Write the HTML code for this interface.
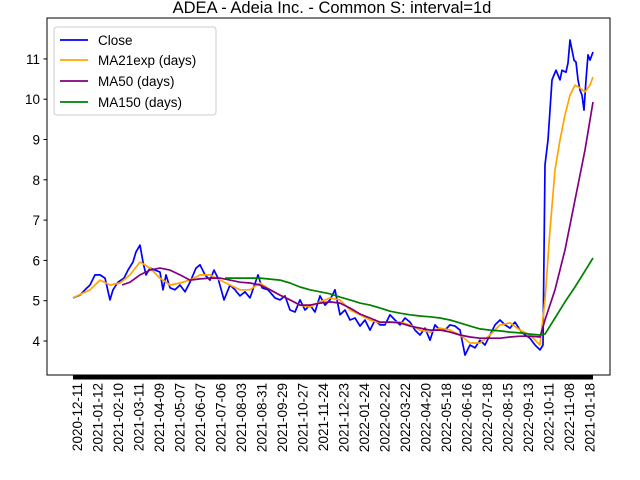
<!DOCTYPE html>
<html><head><meta charset="utf-8"><style>
html,body{margin:0;padding:0;background:#fff;}
svg{display:block;font-family:"Liberation Sans","DejaVu Sans",sans-serif;}
</style></head><body>
<svg id="chart" width="640" height="480" viewBox="0 0 640 480" xmlns="http://www.w3.org/2000/svg">
<text x="332" y="13" font-size="16.5" text-anchor="middle">ADEA - Adeia Inc.  - Common S: interval=1d</text>
<rect x="47" y="18" width="563" height="357" fill="none" stroke="#000" stroke-width="1"/>
<g id="yaxis"></g>
<g id="xaxis"></g>
<g id="series"></g>
<g>
<rect x="54" y="27" width="162" height="88" rx="3" fill="#fff" stroke="#ccc"/>
<line x1="60" y1="40" x2="88" y2="40" stroke="blue" stroke-width="1.8"/>
<text x="98" y="45" font-size="13.5">Close</text>
<line x1="60" y1="60" x2="88" y2="60" stroke="orange" stroke-width="1.8"/>
<text x="98" y="65" font-size="13.5">MA21exp (days)</text>
<line x1="60" y1="81" x2="88" y2="81" stroke="purple" stroke-width="1.8"/>
<text x="98" y="86" font-size="13.5">MA50 (days)</text>
<line x1="60" y1="102" x2="88" y2="102" stroke="green" stroke-width="1.8"/>
<text x="98" y="107" font-size="13.5">MA150 (days)</text>
</g>
</svg>
<script>
const yTicks=[4,5,6,7,8,9,10,11];
const xLabels=["2020-12-11","2021-01-12","2021-02-10","2021-03-11","2021-04-09","2021-05-07","2021-06-07","2021-07-06","2021-08-03","2021-08-31","2021-09-29","2021-10-27","2021-11-24","2021-12-23","2022-01-24","2022-02-22","2022-03-22","2022-04-20","2022-05-18","2022-06-16","2022-07-18","2022-08-15","2022-09-13","2022-10-11","2022-11-08","2021-01-18"];
const closeDay=[0,7,12,17,22,27,32,37,40,45,51,55,60,63,67,70,73,77,82,87,90,93,97,102,107,112,117,123,127,132,137,141,145,151,157,162,167,172,177,185,189,195,202,207,212,217,222,227,232,237,242,247,252,257,262,267,272,277,282,287,292,297,302,307,312,317,322,327,332,337,342,347,352,357,362,367,372,377,382,387,392,397,402,407,412,417,422,427,432,437,442,447,452,457,462,467,470,472,475,477,479,481,483,487,489,493,495,497,499,501,503,505,507,509,511,513,515,517,520];
const closeVal=[5.07,5.14,5.27,5.39,5.64,5.64,5.56,5.02,5.27,5.46,5.56,5.76,5.96,6.21,6.38,5.96,5.64,5.81,5.76,5.71,5.27,5.64,5.32,5.27,5.39,5.22,5.46,5.81,5.89,5.64,5.51,5.76,5.56,5.02,5.39,5.27,5.12,5.22,5.07,5.64,5.32,5.27,5.07,5.02,5.12,4.77,4.72,5.02,4.77,4.89,4.72,5.12,4.89,5.02,5.27,4.65,4.77,4.52,4.57,4.37,4.52,4.27,4.52,4.40,4.40,4.65,4.52,4.40,4.57,4.47,4.27,4.15,4.32,4.02,4.40,4.27,4.27,4.40,4.37,4.27,3.65,3.90,3.83,4.02,3.90,4.15,4.40,4.52,4.40,4.32,4.47,4.27,4.15,4.07,3.90,3.78,3.90,8.37,8.99,9.73,10.48,10.60,10.72,10.48,10.72,10.67,10.90,11.47,11.22,10.97,10.92,10.48,10.23,10.10,9.73,10.48,11.10,10.97,11.17];
const ma21Day=[0,17,27,37,47,57,67,77,87,97,107,117,127,137,147,157,167,177,187,197,207,217,227,237,247,257,267,277,287,297,307,317,327,337,347,357,367,377,387,397,407,417,427,437,447,457,467,472,477,482,487,492,497,502,507,512,517,520];
const ma21Val=[5.07,5.27,5.51,5.39,5.44,5.64,5.96,5.81,5.56,5.39,5.44,5.51,5.64,5.64,5.51,5.39,5.27,5.27,5.44,5.27,5.14,5.02,4.89,4.84,4.97,5.07,5.02,4.77,4.65,4.52,4.45,4.47,4.47,4.40,4.27,4.22,4.32,4.27,4.15,3.95,3.95,4.15,4.40,4.45,4.27,4.15,3.90,5.02,6.75,8.24,8.99,9.61,10.10,10.35,10.28,10.18,10.35,10.55];
const ma50Day=[49,57,67,77,87,97,107,117,127,137,147,157,167,177,187,197,207,217,227,237,247,257,267,277,287,297,307,317,327,337,347,357,367,377,387,397,407,417,427,437,447,457,467,472,482,492,502,512,520];
const ma50Val=[5.39,5.46,5.64,5.76,5.81,5.76,5.64,5.51,5.54,5.56,5.56,5.51,5.46,5.44,5.39,5.27,5.14,5.02,4.89,4.89,4.94,4.97,4.94,4.82,4.67,4.57,4.47,4.47,4.45,4.37,4.32,4.27,4.27,4.22,4.15,4.10,4.07,4.07,4.07,4.10,4.12,4.12,4.10,4.52,5.27,6.26,7.50,8.74,9.93];
const ma150Day=[152,167,187,207,217,227,237,247,257,267,277,287,297,307,317,327,337,347,357,367,377,387,397,407,417,427,437,447,457,467,472,482,492,502,512,520];
const ma150Val=[5.56,5.56,5.56,5.51,5.44,5.34,5.27,5.22,5.17,5.09,5.02,4.94,4.89,4.82,4.74,4.69,4.65,4.62,4.60,4.57,4.52,4.45,4.37,4.30,4.27,4.25,4.22,4.20,4.17,4.15,4.17,4.57,4.97,5.34,5.74,6.06];
const tickStepDays=20.5;

const NS="http://www.w3.org/2000/svg";
function x(d){return 73+d;}
function y(v){return 341-(v-4)*40.3;}
function mk(tag,attrs,parent){const e=document.createElementNS(NS,tag);for(const k in attrs)e.setAttribute(k,attrs[k]);parent.appendChild(e);return e;}
const ya=document.getElementById('yaxis');
yTicks.forEach(v=>{
  const t=mk('line',{x1:43.5,x2:47,y1:y(v),y2:y(v),stroke:'#000'},ya);
  
  
  const l=mk('text',{x:40,y:y(v)+5,'font-size':13.5,'text-anchor':'end'},ya);
  
  
  l.textContent=v;
});
const xa=document.getElementById('xaxis');
const band=mk('rect',{x:x(0),y:375,width:x(520)-x(0),height:4.5,fill:'#000'},xa);


xLabels.forEach((s,i)=>{
  const px=x(i*tickStepDays)+9;
  const l=mk('text',{x:0,y:0,'font-size':13.5,'text-anchor':'end',transform:`translate(${px},383) rotate(-90)`},xa);
  
  
  l.textContent=s;
});
const sg=document.getElementById('series');
function line(days,vals,color,name){
  const n=Math.min(days.length,vals.length);
  let d='';
  for(let i=0;i<n;i++)d+=(i?'L':'M')+x(days[i]).toFixed(1)+','+y(vals[i]).toFixed(1);
  const p=mk('path',{d:d,fill:'none',stroke:color,'stroke-width':1.7,'stroke-linejoin':'round'},sg);
  
  
}
line(closeDay,closeVal,'blue','close-line');
line(ma21Day,ma21Val,'orange','ma21exp-line');
line(ma50Day,ma50Val,'purple','ma50-line');
line(ma150Day,ma150Val,'green','ma150-line');
</script>
</body></html>
